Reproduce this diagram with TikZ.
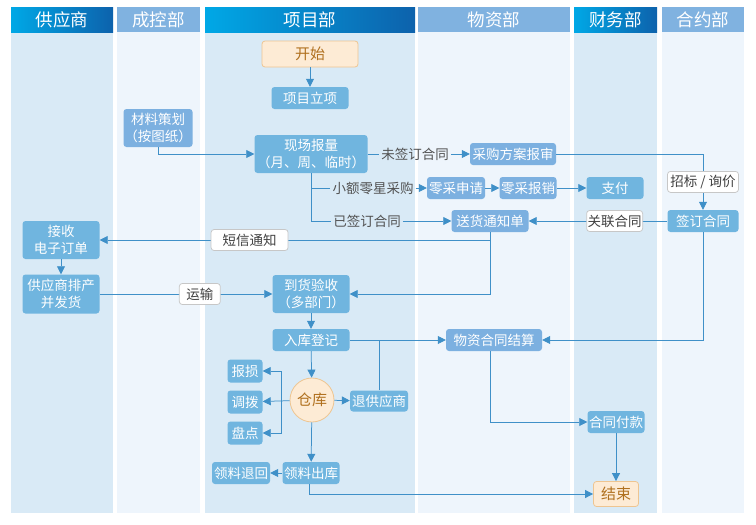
\documentclass[tikz,border=0pt]{standalone}
\usepackage{fontspec}
\setmainfont{Noto Sans CJK SC}
\usetikzlibrary{arrows.meta}
\usepackage{xcolor}

\definecolor{hdL}{HTML}{00A8E6}
\definecolor{hdR}{HTML}{0D62AC}
\definecolor{hdF}{HTML}{80B2E0}
\definecolor{laneD}{HTML}{D9EAF6}
\definecolor{laneL}{HTML}{EEF5FC}
\definecolor{boxA}{HTML}{70B5DF}
\definecolor{boxB}{HTML}{7CB0E0}
\definecolor{flow}{HTML}{3F90C8}
\definecolor{startF}{HTML}{FDEBD5}
\definecolor{startD}{HTML}{EEC591}
\definecolor{startT}{HTML}{B0701E}

\begin{document}
\begin{tikzpicture}[x=1pt, y=-1pt,
  head/.style={text=white, inner sep=0pt, font=\fontsize{17.5}{20}\selectfont},
  box/.style={fill=boxA, rounded corners=3pt, text=white, align=center, inner sep=0pt, minimum height=22pt, font=\fontsize{13.5}{17}\selectfont},
  boxb/.style={box, fill=boxB},
  term/.style={box, fill=startF, draw=startD, text=startT, line width=0.8pt, font=\fontsize{15}{17}\selectfont},
  lbl/.style={fill=white, draw=black!22, rounded corners=3pt, text=black!75, inner sep=0pt, minimum height=21pt, font=\fontsize{13.5}{17}\selectfont},
  txt/.style={text=black!68, inner sep=2pt, font=\fontsize{13.5}{17}\selectfont},
  flowline/.style={draw=flow, line width=0.75pt},
  arr/.style={flowline, -{Triangle[length=8pt,width=8pt]}},
]
\useasboundingbox (0,0) rectangle (756,525);
\fill[white] (0,0) rectangle (756,525);

% swim lanes
\foreach \xa/\xb/\dept in {11/113/供应商, 205/415/项目部, 574/657/财务部} {
  \fill[laneD] (\xa,32) rectangle (\xb,513);
  \shade[left color=hdL, right color=hdR] (\xa,7) rectangle (\xb,32);
  \node[head] (hd\xa) at ({(\xa+\xb)/2},19.5) {\dept};
}
\foreach \xa/\xb/\dept in {117/200/成控部, 418/570/物资部, 662/744/合约部} {
  \fill[laneL] (\xa,32) rectangle (\xb,513);
  \fill[hdF] (\xa,7) rectangle (\xb,32);
  \node[head] (hd\xa) at ({(\xa+\xb)/2},19.5) {\dept};
}

% steps
\node[term, minimum width=96pt, minimum height=26pt] (ks) at (310,54) {开始};
\node[box, minimum width=77pt] (xmlx) at (310,98) {项目立项};
\node[boxb, minimum width=69pt, minimum height=38pt] (clch) at (158,128) {材料策划\\（按图纸）};
\node[box, minimum width=113pt, minimum height=38pt] (xcbl) at (311,154) {现场报量\\（月、周、临时）};
\node[boxb, minimum width=86pt] (cgfa) at (513,154) {采购方案报审};
\node[boxb, minimum width=58pt] (lcsq) at (456,188) {零采申请};
\node[boxb, minimum width=57pt] (lcbx) at (528,188) {零采报销};
\node[box, minimum width=57pt] (zf) at (615,188) {支付};
\node[boxb, minimum width=77pt] (shtz) at (490,221) {送货通知单};
\node[box, minimum width=71pt] (qdht) at (703,221) {签订合同};
\node[box, minimum width=77pt, minimum height=38pt] (jsdd) at (61,240) {接收\\电子订单};
\node[box, minimum width=77pt, minimum height=39pt] (gysfh) at (61,294) {供应商排产\\并发货};
\node[box, minimum width=77pt, minimum height=38pt] (dhys) at (311,294) {到货验收\\（多部门）};
\node[box, minimum width=77pt] (rkdj) at (311,340) {入库登记};
\node[boxb, minimum width=96pt] (wzjs) at (494,340) {物资合同结算};
\node[term, circle, minimum size=44pt] (ck) at (312,400) {仓库};
\node[box, minimum width=58pt, minimum height=21pt] (tgys) at (379,401) {退供应商};
\node[box, minimum width=35pt, minimum height=23pt] (bs) at (245,371) {报损};
\node[box, minimum width=35pt, minimum height=23pt] (db) at (245,402) {调拨};
\node[box, minimum width=35pt, minimum height=23pt] (pd) at (245,433) {盘点};
\node[box, minimum width=57pt] (llck) at (311,473) {领料出库};
\node[box, minimum width=58pt] (llth) at (241,473) {领料退回};
\node[box, minimum width=57pt] (htfk) at (616,422) {合同付款};
\node[term, minimum width=45pt, minimum height=25pt] (js) at (616,494) {结束};

% texts on the branches
\node[txt] (wqht) at (415,154) {未签订合同};
\node[txt] (xelx) at (373,188) {小额零星采购};
\node[txt] (yqht) at (367,221) {已签订合同};

% flow
\draw[arr] (ks) -- (xmlx);
\draw[arr] (clch.south) |- (xcbl.west);
\draw[flowline] (xcbl.east) -- (wqht.west);
\draw[arr] (wqht.east) -- (cgfa.west);
\draw[arr] (cgfa.east) -| (qdht.north) node[lbl, pos=0.75, minimum width=71pt] (zbxj) {招标 / 询价};
\draw[flowline] (xcbl.south) |- (yqht.west);
\draw[flowline] (xcbl.south |- xelx.west) -- (xelx.west);
\draw[arr] (xelx.east) -- (lcsq.west);
\draw[arr] (yqht.east) -- (shtz.west);
\draw[arr] (lcsq) -- (lcbx);
\draw[arr] (lcbx) -- (zf);
\draw[arr] (qdht) -- (shtz) node[lbl, pos=0.38, minimum width=56pt] (glht) {关联合同};
\draw[arr] (qdht.south) |- (wzjs.east);
\draw[arr] (shtz.south) |- (jsdd.east) node[lbl, pos=0.808, minimum width=77pt] (dxtz) {短信通知};
\draw[arr] (shtz.south) |- (dhys.east);
\draw[arr] (jsdd) -- (gysfh);
\draw[arr] (gysfh) -- (dhys) node[lbl, pos=0.58, minimum width=41pt] (yssh) {运输};
\draw[arr] (dhys) -- (rkdj);
\draw[arr] (rkdj) -- (ck);
\draw[arr] (rkdj) -- (wzjs);
\draw[flowline] (tgys.north) -- (tgys.north |- rkdj.east);
\draw[arr] (ck) -- (tgys);
\draw[arr] (ck) -- (db);
\coordinate (fk) at (281,402);
\draw[arr] (fk) |- (bs.east);
\draw[arr] (fk) |- (pd.east);
\draw[arr] (ck) -- (llck);
\draw[arr] (llck) -- (llth);
\draw[arr] ([xshift=-2pt]llck.south) |- (js.west);
\draw[arr] ([xshift=-4pt]wzjs.south) |- (htfk.west);
\draw[arr] (htfk) -- (js);
\end{tikzpicture}
\end{document}
